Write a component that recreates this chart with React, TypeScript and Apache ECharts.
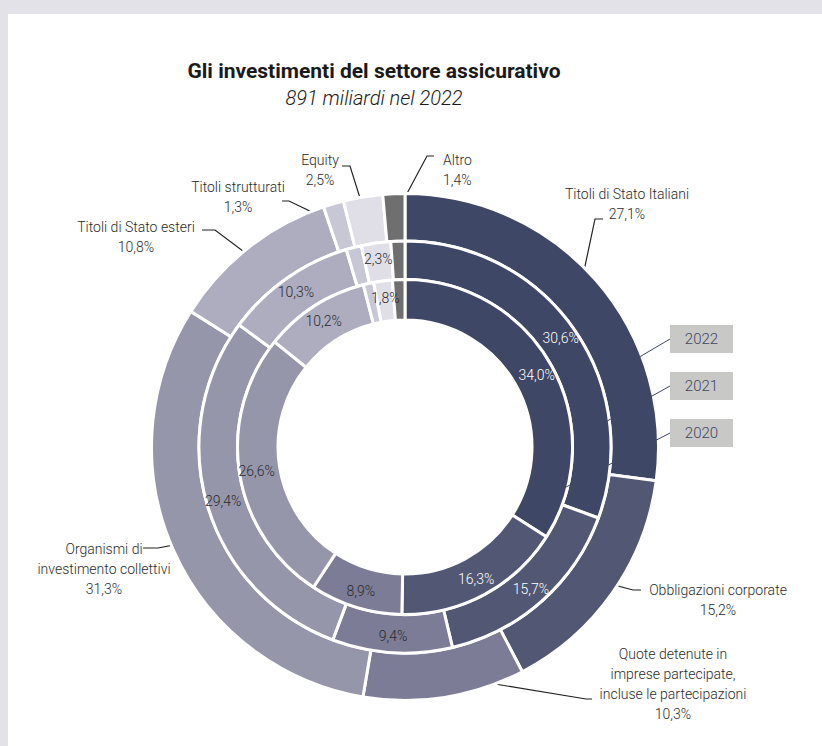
import React, { useEffect, useRef } from "react";
import * as echarts from "echarts";

const categories = [
  "Titoli di Stato Italiani",
  "Obbligazioni corporate",
  "Quote detenute in\nimprese partecipate,\nincluse le partecipazioni",
  "Organismi di\ninvestimento collettivi",
  "Titoli di Stato esteri",
  "Titoli strutturati",
  "Equity",
  "Altro",
];
const values2022 = [27.1, 15.2, 10.3, 31.3, 10.8, 1.3, 2.5, 1.4];
const values2021 = [30.6, 15.7, 9.4, 29.4, 10.3, 1.2, 2.3, 1.1];
const values2020 = [34.0, 16.3, 8.9, 26.6, 10.2, 1.0, 1.8, 1.2];
const labelled2021 = [true, true, true, true, true, false, true, false];
const labelled2020 = [true, true, true, true, true, false, true, false];
const years = ["2022", "2021", "2020"];
const colors = ["#3e4765", "#525874", "#7c7c96", "#9596aa", "#aeadc0", "#c8c7d5", "#e0dfe7", "#6f6f6f"];
const lightText = [true, true, false, false, false, false, false, false];

const FONT = "Roboto, 'Liberation Sans', sans-serif";
const CX = 405;
const CY = 447;

// label anchor placements and leader elbows (layout only)
const outerLabelPos: [number, number, string][] = [
  [627, 204, "center"],
  [718, 600, "center"],
  [673, 684, "center"],
  [104, 569, "center"],
  [136, 237, "center"],
  [238, 197, "center"],
  [320, 170, "center"],
  [443, 170, "left"],
];
const leaderBends: number[][][] = [
  [[595, 219], [603, 219]],
  [[633, 590], [641, 590]],
  [[586, 699], [592, 699]],
  [[158, 548], [143, 548]],
  [[215, 230], [202, 230]],
  [[289, 201], [282, 201]],
  [[350, 166], [342, 166]],
  [[427, 156], [434, 156]],
];

const fmt = (v: number) => v.toFixed(1).replace(".", ",") + "%";

function midPoint(vals: number[], i: number, r: number) {
  const total = vals.reduce((a, b) => a + b, 0);
  let cum = 0;
  for (let k = 0; k < i; k++) cum += vals[k];
  const frac = (cum + vals[i] / 2) / total;
  const th = frac * Math.PI * 2;
  return [CX + r * Math.sin(th), CY - r * Math.cos(th)];
}

function ringData(vals: number[], labelled: boolean[] | null) {
  return vals.map((v, i) => ({
    name: categories[i],
    value: v,
    itemStyle: { color: colors[i] },
    label: labelled
      ? { show: labelled[i], color: lightText[i] ? "#ffffff" : "#2a2a2a" }
      : undefined,
  }));
}

export default function App() {
  const ref = useRef<HTMLDivElement>(null);
  useEffect(() => {
    document.body.style.margin = "0";
    const chart = echarts.init(ref.current!, null, { renderer: "svg" });
    const innerLabel = {
      show: true,
      position: "inside",
      fontFamily: FONT,
      fontSize: 14,
      fontWeight: 300,
      formatter: (p: any) => fmt(p.value),
    };
    const yearBoxes: any[] = [];
    const yearTargets = [
      [631, 362],
      [600, 425],
      [541, 500],
    ];
    years.forEach((y, i) => {
      const top = 325 + i * 47;
      yearBoxes.push({
        type: "line",
        shape: { x1: 670, y1: top + 14, x2: yearTargets[i][0], y2: yearTargets[i][1] },
        style: { stroke: "#3e4765", lineWidth: 1 },
        z: 100,
      });
      yearBoxes.push({
        type: "rect",
        shape: { x: 670, y: top, width: 63, height: 28 },
        style: { fill: "#c8c8c6" },
        z: 100,
      });
      yearBoxes.push({
        type: "text",
        x: 701.5,
        y: top + 14,
        style: {
          text: y,
          fill: "#3e4765",
          font: `300 15px ${FONT}`,
          align: "center",
          verticalAlign: "middle",
        },
        z: 101,
      });
    });
    chart.setOption({
      animation: false,
      title: {
        text: "Gli investimenti del settore assicurativo",
        subtext: "891 miliardi nel 2022",
        left: 369,
        top: 55,
        textAlign: "center",
        itemGap: 7,
        textStyle: { fontFamily: FONT, fontSize: 21, fontWeight: "bold", color: "#1a1a1a" },
        subtextStyle: { fontFamily: FONT, fontSize: 20, fontWeight: 300, fontStyle: "italic", color: "#1a1a1a" },
      },
      graphic: yearBoxes,
      series: [
        {
          type: "pie",
          name: "2022",
          center: [CX, CY],
          radius: [206, 253.5],
          silent: true,
          avoidLabelOverlap: false,
          itemStyle: { borderColor: "#ffffff", borderWidth: 3 },
          label: {
            show: true,
            position: "outside",
            fontFamily: FONT,
            fontSize: 14,
            fontWeight: 300,
            lineHeight: 20,
            color: "#2a2a2a",
            formatter: (p: any) => `${p.name}\n${fmt(p.value)}`,
          },
          labelLine: { show: true, lineStyle: { color: "#222222", width: 1.2 } },
          labelLayout: (p: any) => {
            const i = p.dataIndex;
            const start = midPoint(values2022, i, 231);
            const pos = outerLabelPos[i];
            return {
              x: pos[0],
              y: pos[1],
              align: pos[2],
              verticalAlign: "middle",
              labelLinePoints: [start, leaderBends[i][0], leaderBends[i][1]],
            };
          },
          data: ringData(values2022, null),
        },
        {
          type: "pie",
          name: "2021",
          center: [CX, CY],
          radius: [167.5, 206],
          silent: true,
          itemStyle: { borderColor: "#ffffff", borderWidth: 3 },
          label: innerLabel,
          labelLine: { show: false },
          data: ringData(values2021, labelled2021),
        },
        {
          type: "pie",
          name: "2020",
          center: [CX, CY],
          radius: [127, 167.5],
          silent: true,
          itemStyle: { borderColor: "#ffffff", borderWidth: 3 },
          label: innerLabel,
          labelLine: { show: false },
          data: ringData(values2020, labelled2020),
        },
      ],
    });
    return () => chart.dispose();
  }, []);
  return (
    <div style={{ position: "relative", width: 822, height: 746, background: "#e3e2e8", overflow: "hidden" }}>
      <div style={{ position: "absolute", left: 8, top: 14, right: 0, bottom: 0, background: "#ffffff" }} />
      <div ref={ref} style={{ position: "absolute", left: 0, top: 0, width: 822, height: 746 }} />
    </div>
  );
}
